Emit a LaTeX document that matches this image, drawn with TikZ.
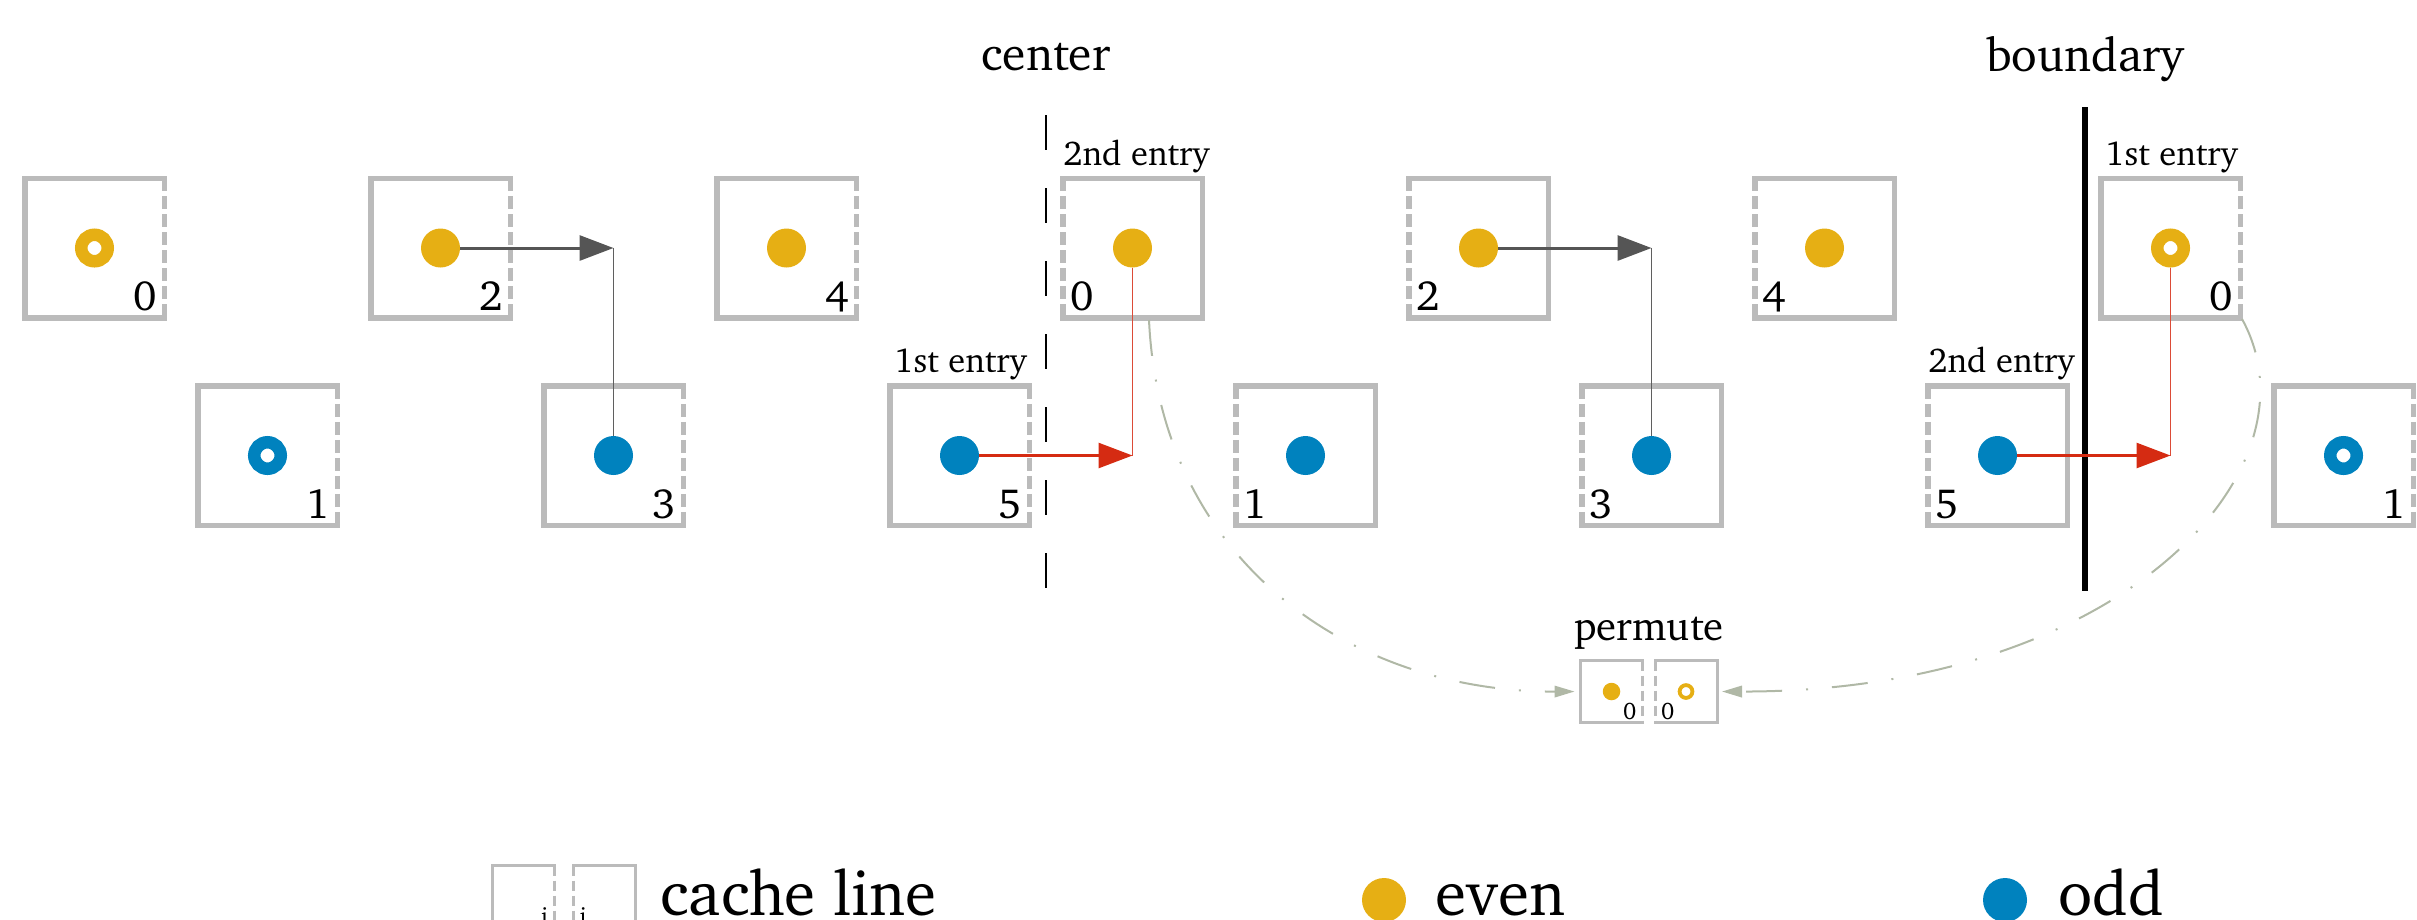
\documentclass[tikz,border=0pt]{standalone}
\usepackage[T1]{fontenc}
\usepackage{charter}
\usetikzlibrary{arrows.meta,calc}
\definecolor{evenc}{RGB}{230,175,20}
\definecolor{oddc}{RGB}{0,130,190}
\definecolor{boxgray}{RGB}{187,187,187}
\definecolor{darkarrow}{RGB}{85,85,85}
\definecolor{thingray}{RGB}{95,95,95}
\definecolor{redarrow}{RGB}{213,43,18}
\definecolor{redthin}{RGB}{220,75,55}
\definecolor{curvec}{RGB}{176,184,166}
\newcommand{\fnum}{\fontsize{12}{14}\selectfont}
\newcommand{\fsmall}{\fontsize{6.8}{8}\selectfont}
\newcommand{\fentry}{\fontsize{9.8}{12}\selectfont}
\newcommand{\fhead}{\fontsize{13.5}{16}\selectfont}
\newcommand{\fperm}{\fontsize{11.6}{13}\selectfont}
\newcommand{\flegend}{\fontsize{18}{21}\selectfont}
\tikzset{
  cell/.style={rectangle, minimum size=13.95mm, inner sep=0pt, outer sep=0pt},
  cellline/.style={draw=boxgray, line width=0.55mm, line cap=rect},
  celldash/.style={draw=boxgray, line width=0.55mm, dash pattern=on 1.3mm off 0.5mm},
  scell/.style={rectangle, minimum size=6.2mm, inner sep=0pt, outer sep=0pt},
  scellline/.style={draw=boxgray, line width=0.3mm, line cap=rect},
  scelldash/.style={draw=boxgray, line width=0.3mm, dash pattern=on 1.0mm off 0.5mm},
  fdotE/.style={circle, minimum size=3.9mm, inner sep=0pt, outer sep=0pt, fill=evenc},
  fdotO/.style={circle, minimum size=3.9mm, inner sep=0pt, outer sep=0pt, fill=oddc},
  rdotE/.style={circle, minimum size=2.65mm, inner sep=0pt, line width=1.25mm, draw=evenc, fill=white},
  rdotO/.style={circle, minimum size=2.65mm, inner sep=0pt, line width=1.25mm, draw=oddc, fill=white},
  sfdotE/.style={circle, minimum size=1.75mm, inner sep=0pt, outer sep=0pt, fill=evenc},
  srdotE/.style={circle, minimum size=1.28mm, inner sep=0pt, line width=0.38mm, draw=evenc, fill=white},
  legdotE/.style={circle, minimum size=4.4mm, inner sep=0pt, fill=evenc},
  legdotO/.style={circle, minimum size=4.4mm, inner sep=0pt, fill=oddc},
  num/.style={font=\fnum, inner sep=0pt},
  snum/.style={font=\fsmall, inner sep=0pt},
  entry/.style={font=\fentry, inner sep=0pt, anchor=base west},
  garrow/.style={draw=darkarrow, line width=0.3mm, -{Triangle[length=3.4mm, width=2.5mm]}},
  gline/.style={draw=thingray, line width=0.17mm},
  rarrow/.style={draw=redarrow, line width=0.27mm, -{Triangle[length=3.4mm, width=2.5mm]}},
  rline/.style={draw=redthin, line width=0.15mm},
  curve/.style={draw=curvec, line width=0.2mm, dash pattern=on 3.6mm off 2.4mm on 0.2mm off 2.4mm,
     -{Triangle[length=2.0mm, width=1.15mm]}},
}
% main cell: #1 name, #2 x, #3 y, #4 dashed side (R/L), #5 number, #6 dot style
\newcommand{\mcell}[6]{%
  \node[cell] (#1) at (#2,#3) {};
  \if R#4
    \draw[cellline] (#1.north east) -- (#1.north west) -- (#1.south west) -- (#1.south east);
    \draw[celldash] (#1.north east) -- (#1.south east);
    \node[num, anchor=base east] (#1n) at ([xshift=-0.7mm,yshift=0.7mm]#1.south east) {#5};
  \else
    \draw[cellline] (#1.north west) -- (#1.north east) -- (#1.south east) -- (#1.south west);
    \draw[celldash] (#1.north west) -- (#1.south west);
    \node[num, anchor=base west] (#1n) at ([xshift=0.7mm,yshift=0.7mm]#1.south west) {#5};
  \fi
  \node[#6] (#1d) at (#2,#3) {};
}
% small cell
\newcommand{\scellbox}[6]{%
  \node[scell] (#1) at (#2,#3) {};
  \if R#4
    \draw[scellline] (#1.north east) -- (#1.north west) -- (#1.south west) -- (#1.south east);
    \draw[scelldash] (#1.north east) -- (#1.south east);
    \node[snum, anchor=base east] (#1n) at ([xshift=-0.55mm,yshift=0.35mm]#1.south east) {#5};
  \else
    \draw[scellline] (#1.north west) -- (#1.north east) -- (#1.south east) -- (#1.south west);
    \draw[scelldash] (#1.north west) -- (#1.south west);
    \node[snum, anchor=base west] (#1n) at ([xshift=0.55mm,yshift=0.35mm]#1.south west) {#5};
  \fi
  \ifx\relax#6\relax\else\node[#6] (#1d) at (#2,#3) {};\fi
}
\begin{document}
\begin{tikzpicture}[x=0.1mm, y=-0.1mm]
\useasboundingbox (0,0) rectangle (2417,919);
\clip (0,0) rectangle (2417,919);

% first sequence (dashed right side)
\mcell{c0}{94.5}{248}{R}{0}{rdotE}
\mcell{c1}{267.5}{455.5}{R}{1}{rdotO}
\mcell{c2}{440.5}{248}{R}{2}{fdotE}
\mcell{c3}{613.5}{455.5}{R}{3}{fdotO}
\mcell{c4}{786.5}{248}{R}{4}{fdotE}
\mcell{c5}{959.5}{455.5}{R}{5}{fdotO}
% second sequence (dashed left side)
\mcell{c6}{1132.5}{248}{L}{0}{fdotE}
\mcell{c7}{1305.5}{455.5}{L}{1}{fdotO}
\mcell{c8}{1478.5}{248}{L}{2}{fdotE}
\mcell{c9}{1651.5}{455.5}{L}{3}{fdotO}
\mcell{c10}{1824.5}{248}{L}{4}{fdotE}
\mcell{c11}{1997.5}{455.5}{L}{5}{fdotO}
% third sequence
\mcell{c12}{2170.5}{248}{R}{0}{rdotE}
\mcell{c13}{2343.5}{455.5}{R}{1}{rdotO}

% entry labels
\node[entry] (e5) at ([xshift=0.4mm,yshift=1.3mm]c5.north west) {1st entry};
\node[entry] (e6) at ([yshift=1.3mm]c6.north west) {2nd entry};
\node[entry] (e11) at ([yshift=1.3mm]c11.north west) {2nd entry};
\node[entry] (e12) at ([xshift=0.4mm,yshift=1.3mm]c12.north west) {1st entry};

% center and boundary lines
\coordinate (ct) at (1046,115);
\coordinate (cb) at (1046,588);
\draw[black, line width=0.25mm, dash pattern=on 3.5mm off 3.8mm] (ct) -- (cb);
\node[font=\fhead, anchor=base, inner sep=0pt] (centerlab) at (1046,70) {center};
\coordinate (bt) at (2085,107);
\coordinate (bb) at (2085,591);
\draw[black, line width=0.53mm] (bt) -- (bb);
\node[font=\fhead, anchor=base, inner sep=0pt] (boundlab) at (2085,71) {boundary};

% gray arrows
\draw[gline] (c3d) -- (c3d |- c2d);
\draw[garrow] (c2d) -- (c3d |- c2d);
\draw[gline] (c9d) -- (c9d |- c8d);
\draw[garrow] (c8d) -- (c9d |- c8d);
% red arrows
\draw[rline] (c6d) -- (c6d |- c5d);
\draw[rarrow] (c5d) -- (c6d |- c5d);
\draw[rline] (c12d) -- (c12d |- c11d);
\draw[rarrow] (c11d) -- (c12d |- c11d);

% permute
\scellbox{pl}{1611.5}{691.5}{R}{0}{sfdotE}
\scellbox{pr}{1686}{691.5}{L}{0}{srdotE}
\node[font=\fperm, anchor=base, inner sep=0pt] (permlab) at (1649,640) {permute};

\coordinate (s1) at (1149,320);
\draw[curve, shorten >=0.6mm] (s1) .. controls (1160,560) and (1350,692) .. (pl.west);
\coordinate (s2) at (2242,319);
\draw[curve, shorten >=0.5mm] (s2) .. controls (2325,470) and (2120,692) .. (pr.east);

% legend
\scellbox{ll}{523}{896.5}{R}{i}{}
\scellbox{lr}{604.5}{896.5}{L}{i}{}
\node[font=\flegend, anchor=base west, inner sep=0pt] (leg1) at (660,915) {cache line};
\node[legdotE] (ld1) at (1384,900) {};
\node[font=\flegend, anchor=base west, inner sep=0pt] (leg2) at (1435,915) {even};
\node[legdotO] (ld2) at (2005,900) {};
\node[font=\flegend, anchor=base west, inner sep=0pt] (leg3) at (2058,915) {odd};
\end{tikzpicture}
\end{document}
